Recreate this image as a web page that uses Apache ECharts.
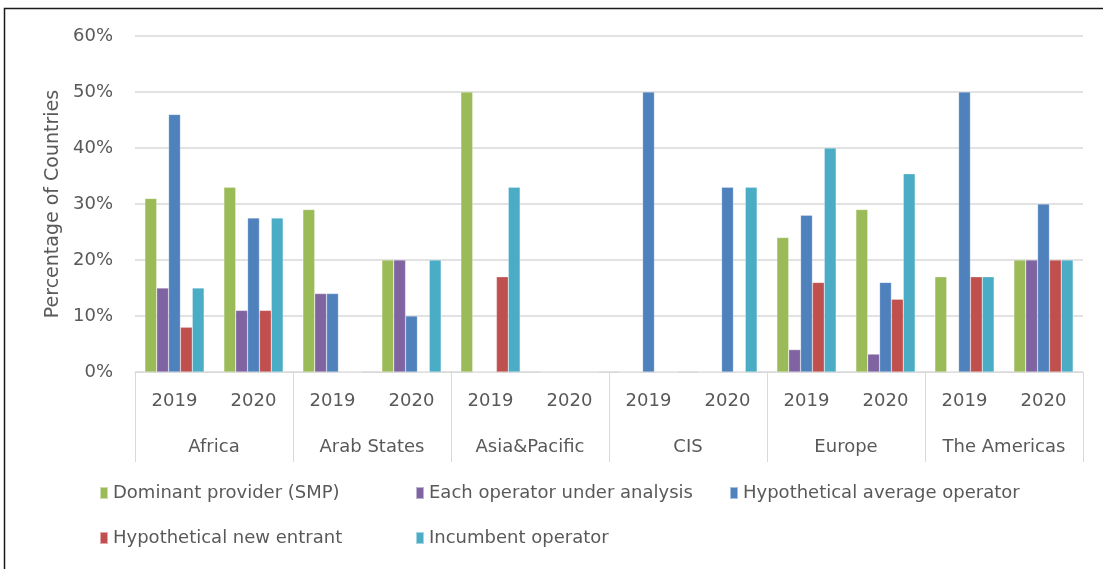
<!DOCTYPE html>
<html>
<head>
<meta charset="utf-8">
<script src="https://cdn.jsdelivr.net/npm/echarts@6/dist/echarts.min.js"></script>
<style>
  html, body { margin: 0; padding: 0; background: #fff; }
  #chart { width: 1103px; height: 569px; }
</style>
</head>
<body>
<div id="chart"></div>
<script>
// categories
const years = ['2019', '2020', '2019', '2020', '2019', '2020', '2019', '2020', '2019', '2020', '2019', '2020']
const regions = ['Africa', 'Arab States', 'Asia&Pacific', 'CIS', 'Europe', 'The Americas']
const yTicks = [0, 10, 20, 30, 40, 50, 60]

// series values (% of countries), one per region/year
const dominant   = [31, 33, 29, 20, 50, 0, 0, 0, 24, 29, 17, 20]
const eachOp     = [15, 11, 14, 20, 0, 0, 0, 0, 4, 3.2, 0, 20]
const hypAverage = [46, 27.5, 14, 10, 0, 0, 50, 33, 28, 16, 50, 30]
const hypNew     = [8, 11, 0, 0, 17, 0, 0, 0, 16, 13, 17, 20]
const incumbent  = [15, 27.5, 0, 20, 33, 0, 0, 33, 40, 35.4, 17, 20]

const seriesNames = [
  'Dominant provider (SMP)',
  'Each operator under analysis',
  'Hypothetical average operator',
  'Hypothetical new entrant',
  'Incumbent operator'
]
const seriesData = [dominant, eachOp, hypAverage, hypNew, incumbent]
const colors = ['#9bbb59', '#8064a2', '#4f81bd', '#c0504d', '#4bacc6']

const font = 'DejaVu Sans, sans-serif'
const textColor = '#595959'
const fs = 18

const chart = echarts.init(document.getElementById('chart'))

// legend laid out as a 3-column grid, one legend per item
const legendPos = [[99, 484], [415, 484], [729, 484], [99, 529], [415, 529]]
const legends = seriesNames.map((name, i) => ({
  data: [name],
  left: legendPos[i][0],
  top: legendPos[i][1],
  itemWidth: 8,
  itemHeight: 12,
  icon: 'rect',
  padding: 0,
  itemGap: 0,
  textStyle: { color: textColor, fontSize: fs, fontFamily: font, padding: [0, 0, 0, 0] }
}))

chart.setOption({
  animation: false,
  color: colors,
  grid: { left: 135, right: 20, top: 36, bottom: 197 },
  legend: legends,
  xAxis: [
    {
      type: 'category',
      data: years,
      axisLine: { show: false },
      axisTick: { show: false },
      axisLabel: { color: textColor, fontSize: fs, fontFamily: font, margin: 20 }
    },
    {
      type: 'category',
      data: regions,
      position: 'bottom',
      axisLine: { show: true, lineStyle: { color: '#d9d9d9', width: 1 } },
      axisTick: { show: true, length: 90, interval: 0, lineStyle: { color: '#d9d9d9', width: 1 } },
      axisLabel: { color: textColor, fontSize: fs, fontFamily: font, margin: 66, interval: 0 }
    }
  ],
  yAxis: {
    type: 'value',
    min: yTicks[0],
    max: yTicks[yTicks.length - 1],
    interval: 10,
    name: 'Percentage of Countries',
    nameLocation: 'middle',
    nameGap: 70,
    nameTextStyle: { color: textColor, fontSize: 19, fontFamily: font },
    axisLine: { show: false },
    axisTick: { show: false },
    axisLabel: { formatter: '{value}%', color: textColor, fontSize: fs, fontFamily: font, margin: 22 },
    splitLine: { lineStyle: { color: '#d9d9d9', width: 1.5 } }
  },
  series: seriesNames.map((name, i) => ({
    name: name,
    type: 'bar',
    xAxisIndex: 0,
    data: seriesData[i],
    barGap: '0%',
    barCategoryGap: '25%',
    itemStyle: { color: colors[i], borderColor: 'rgba(255,255,255,0.5)', borderWidth: 0.5 }
  })),
  graphic: [
    {
      type: 'rect',
      shape: { x: 4.5, y: 8.5, width: 1110, height: 600 },
      style: { fill: 'none', stroke: '#1a1a1a', lineWidth: 1.5 },
      silent: true
    }
  ]
})

window.addEventListener('resize', () => chart.resize())
</script>
</body>
</html>
